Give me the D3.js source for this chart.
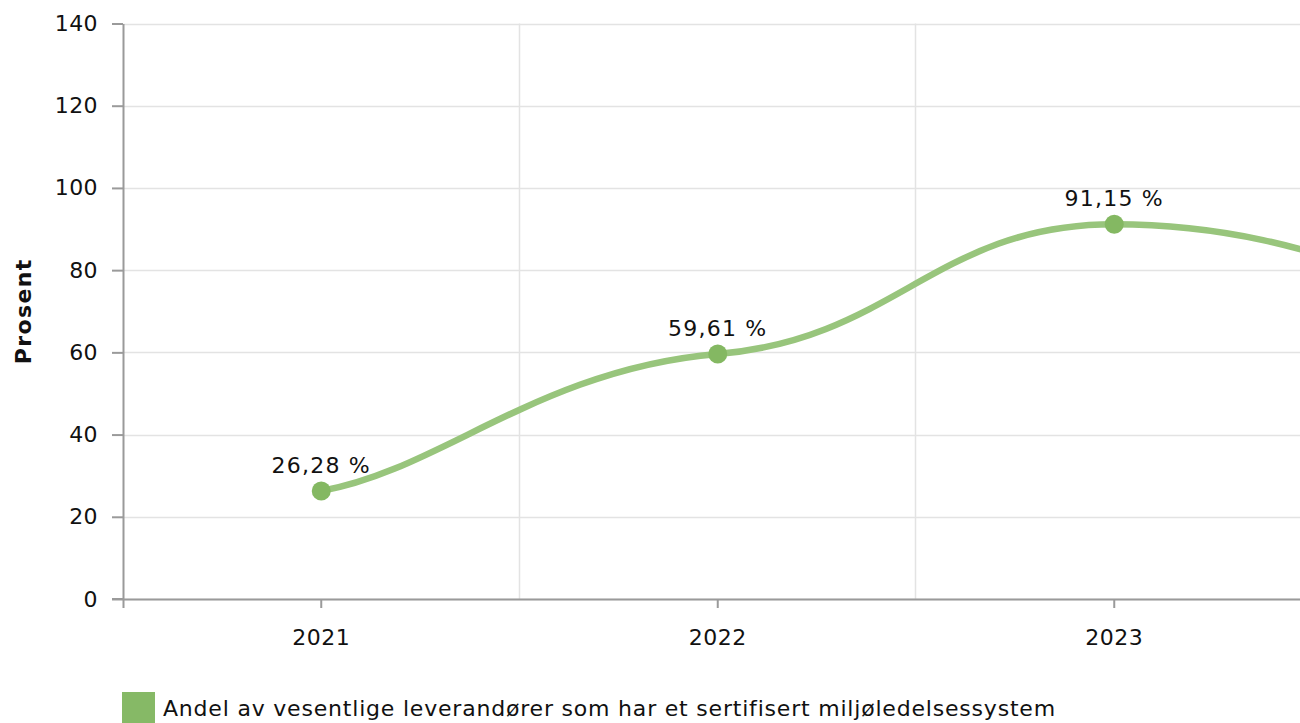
<!DOCTYPE html>
<html>
<head>
<meta charset="utf-8">
<script src="https://cdn.jsdelivr.net/npm/d3@7"></script>
<style>
  body { margin: 0; background: #fff; }
  svg { display: block; font-family: "DejaVu Sans", Verdana, sans-serif; }
</style>
</head>
<body>
<script>
// data (2024 lies outside the visible area, estimated from the curve)
var years = ["2021", "2022", "2023", "2024"];
var values = [26.28, 59.61, 91.15, 71];
var yTicks = [0, 20, 40, 60, 80, 100, 120, 140];
var seriesName = "Andel av vesentlige leverandører som har et sertifisert miljøledelsessystem";
var yTitle = "Prosent";

var width = 1300, height = 723;
var margin = { left: 123, top: 23.5, bottom: 124 };
var plotH = height - margin.top - margin.bottom;
var bandW = 396.5;
var fs = 22;

var svg = d3.select("body").append("svg").attr("width", width).attr("height", height);

var x = d3.scaleBand().domain(years).range([margin.left, margin.left + bandW * years.length]);
var y = d3.scaleLinear().domain([0, 140]).range([margin.top + plotH, margin.top]);
var cx = function (yr) { return x(yr) + x.bandwidth() / 2; };
// only the years whose centre falls inside the picture get a label
var shownYears = years.filter(function (d) { return cx(d) < width; });

// horizontal grid
svg.append("g").selectAll("line").data(yTicks).enter().append("line")
    .attr("x1", margin.left).attr("x2", width)
    .attr("y1", function (d) { return Math.round(y(d)) + 0.5; })
    .attr("y2", function (d) { return Math.round(y(d)) + 0.5; })
    .attr("stroke", "#e3e3e3").attr("stroke-width", 1.5);

// vertical grid at band boundaries
svg.append("g").selectAll("line").data(years.slice(1)).enter().append("line")
    .attr("x1", function (d) { return Math.round(x(d)) - 0.5; })
    .attr("x2", function (d) { return Math.round(x(d)) - 0.5; })
    .attr("y1", margin.top).attr("y2", y(0))
    .attr("stroke", "#e3e3e3").attr("stroke-width", 1.5);

// y axis
var yAxis = svg.append("g")
    .attr("transform", "translate(" + margin.left + ",0)")
    .call(d3.axisLeft(y).tickValues(yTicks).tickSize(11).tickSizeOuter(0).tickPadding(14));
yAxis.select(".domain").attr("stroke", "#9a9a9a").attr("stroke-width", 2);
yAxis.selectAll(".tick line").attr("stroke", "#9a9a9a").attr("stroke-width", 2);
yAxis.selectAll("text").attr("font-size", fs).attr("letter-spacing", 0.4).attr("fill", "#111").attr("font-family", "DejaVu Sans");

// x axis
var xAxis = svg.append("g")
    .attr("transform", "translate(0," + y(0) + ")")
    .call(d3.axisBottom(x).tickValues(shownYears).tickSizeOuter(0).tickSize(9).tickPadding(21));
xAxis.select(".domain").attr("stroke", "#9a9a9a").attr("stroke-width", 2);
xAxis.selectAll(".tick line").attr("stroke", "#9a9a9a").attr("stroke-width", 2);
xAxis.selectAll("text").attr("font-size", fs).attr("letter-spacing", 0.5).attr("fill", "#111").attr("font-family", "DejaVu Sans");
// small stub of the axis line left of the y axis
svg.append("line").attr("x1", 112).attr("x2", margin.left).attr("y1", y(0)).attr("y2", y(0))
    .attr("stroke", "#9a9a9a").attr("stroke-width", 2);

// y title
svg.append("text")
    .attr("transform", "translate(31," + (margin.top + plotH / 2) + ") rotate(-90)")
    .attr("text-anchor", "middle")
    .attr("font-size", fs).attr("font-weight", "bold").attr("letter-spacing", 1.4).attr("fill", "#111")
    .text(yTitle);

// smoothed line: monotone tangents, softened at the points, long control arms
var pts = years.map(function (d, i) { return [cx(d), y(values[i])]; });
function smoothPath(p) {
    var n = p.length, m = [], i;
    var sl = function (a, b) { return (b[1] - a[1]) / (b[0] - a[0]); };
    for (i = 1; i < n - 1; i++) {
        var h0 = p[i][0] - p[i - 1][0], h1 = p[i + 1][0] - p[i][0];
        var s0 = sl(p[i - 1], p[i]), s1 = sl(p[i], p[i + 1]);
        var q = (s0 * h1 + s1 * h0) / (h0 + h1);
        m[i] = (Math.sign(s0) + Math.sign(s1)) * Math.min(Math.abs(s0), Math.abs(s1), 0.5 * Math.abs(q)) || 0;
    }
    m[0] = (3 * sl(p[0], p[1]) - m[1]) / 2;
    m[n - 1] = (3 * sl(p[n - 2], p[n - 1]) - m[n - 2]) / 2;
    var arm = function (k) { return (k === 0 || k === n - 1) ? 0.3 : 0.45; };
    var soft = function (k) { return (k === 0 || k === n - 1) ? 0.5 : 0.25; };
    var d = "M" + p[0][0] + "," + p[0][1];
    for (i = 0; i < n - 1; i++) {
        var h = p[i + 1][0] - p[i][0];
        var a0 = arm(i) * h, a1 = arm(i + 1) * h;
        d += "C" + (p[i][0] + a0) + "," + (p[i][1] + a0 * soft(i) * m[i]) + " " +
            (p[i + 1][0] - a1) + "," + (p[i + 1][1] - a1 * soft(i + 1) * m[i + 1]) + " " +
            p[i + 1][0] + "," + p[i + 1][1];
    }
    return d;
}

svg.append("path")
    .attr("d", smoothPath(pts))
    .attr("fill", "none")
    .attr("stroke", "#98c57c")
    .attr("stroke-width", 6.5)
    .attr("stroke-linecap", "round");

var shown = values.filter(function (d, i) { return cx(years[i]) < width; });

svg.selectAll("circle.pt").data(shown).enter().append("circle")
    .attr("class", "pt")
    .attr("cx", function (d, i) { return cx(years[i]); })
    .attr("cy", function (d) { return y(d); })
    .attr("r", 9.5)
    .attr("fill", "#84b862");

svg.selectAll("text.lbl").data(shown).enter().append("text")
    .attr("class", "lbl")
    .attr("x", function (d, i) { return cx(years[i]); })
    .attr("y", function (d) { return y(d) - 18; })
    .attr("text-anchor", "middle")
    .attr("font-size", fs).attr("letter-spacing", 1.2).attr("fill", "#111")
    .text(function (d) { return d.toFixed(2).replace(".", ",") + " %"; });

// legend
svg.append("rect").attr("x", 122).attr("y", 692).attr("width", 33).attr("height", 33).attr("fill", "#86b966");
svg.append("text").attr("x", 163).attr("y", 716)
    .attr("font-size", fs).attr("letter-spacing", 0.8).attr("fill", "#111")
    .text(seriesName);
</script>
</body>
</html>
